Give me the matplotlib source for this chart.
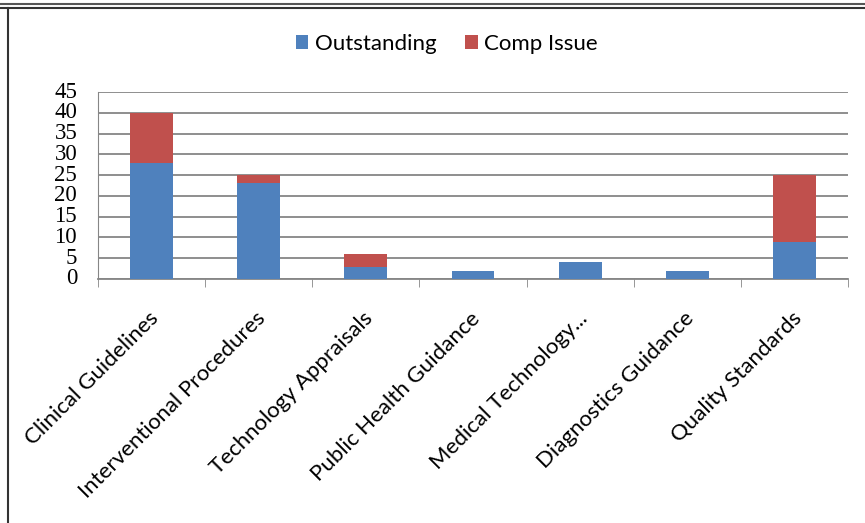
import matplotlib.pyplot as plt
import numpy as np
from matplotlib.lines import Line2D

# -------------------------
# Data
# -------------------------
categories = [
    "Clinical Guidelines",
    "Interventional Procedures",
    "Technology Appraisals",
    "Public Health Guidance",
    "Medical Technology...",
    "Diagnostics Guidance",
    "Quality Standards",
]
outstanding = [28, 23, 3, 2, 4, 2, 9]
comp_issue = [12, 2, 3, 0, 0, 0, 16]

blue = "#4F81BD"
red = "#C0504D"
grid_col = "#868686"

# -------------------------
# Figure
# -------------------------
fig = plt.figure(figsize=(8.65, 5.23), dpi=100)
ax = fig.add_axes([98 / 865, 1 - 279 / 523, 750 / 865, 187 / 523])

x = np.arange(len(categories))
ax.bar(x, outstanding, width=0.4, color=blue, zorder=3, label="Outstanding")
ax.bar(x, comp_issue, width=0.4, bottom=outstanding, color=red, zorder=3,
       label="Comp Issue")

ax.set_xlim(-0.5, len(categories) - 0.5)
ax.set_ylim(0, 45)
ax.set_yticks(range(0, 46, 5))
ax.yaxis.grid(True, color=grid_col, linewidth=1.3, zorder=0)

for s in ["top", "right"]:
    ax.spines[s].set_visible(False)
ax.spines["left"].set_color(grid_col)
ax.spines["bottom"].set_color(grid_col)
ax.spines["bottom"].set_linewidth(1.3)

ax.tick_params(axis="y", length=0, pad=15)
for lab in ax.get_yticklabels():
    lab.set_family("Liberation Serif")
    lab.set_fontsize(16.5)
    lab.set_verticalalignment("center")

# category labels at centers, tick marks at boundaries
ax.set_xticks(x - 0.03)
ax.set_xticklabels(categories, rotation=45, ha="right", va="top",
                   rotation_mode="anchor", fontsize=16, family="Lato")
ax.tick_params(axis="x", length=0, pad=21)
ax.set_xticks(np.arange(-0.5, len(categories), 1), minor=True)
ax.tick_params(axis="x", which="minor", length=6, color=grid_col, direction="out")

# legend
fig.legend(loc="center", bbox_to_anchor=(447 / 865, 1 - 44 / 523), ncol=2,
           frameon=False, prop={"family": "Lato", "size": 16},
           handlelength=0.55, handleheight=0.55, handletextpad=0.3,
           columnspacing=1.3)

# screenshot frame lines
fig.add_artist(Line2D([0, 1], [1 - 4 / 523, 1 - 4 / 523], color="#555555", lw=1.5))
fig.add_artist(Line2D([0, 1], [1 - 8 / 523, 1 - 8 / 523], color="#333333", lw=1.5))
fig.add_artist(Line2D([8 / 865, 8 / 865], [0, 1 - 8 / 523], color="#333333", lw=1.5))

fig.savefig("out.png", dpi=100)
